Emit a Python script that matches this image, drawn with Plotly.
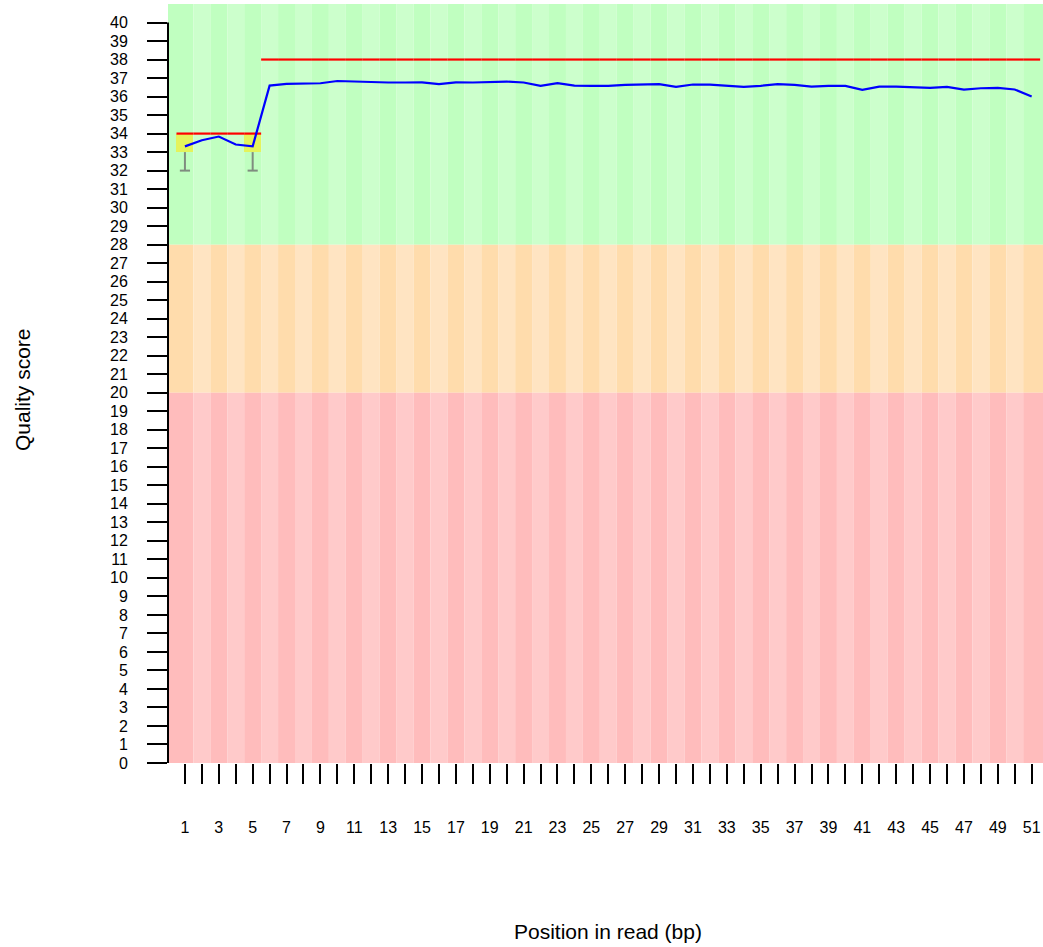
import plotly.graph_objects as go

# ---- data ----
positions = list(range(1, 52))
mean_q = [33.31, 33.64, 33.84, 33.41, 33.31,
          36.59, 36.68, 36.70, 36.72, 36.84, 36.81, 36.81, 36.76, 36.76, 36.77,
          36.67, 36.77, 36.76, 36.77, 36.81, 36.76, 36.58, 36.72, 36.59, 36.58,
          36.58, 36.63, 36.65, 36.67, 36.52, 36.65, 36.65, 36.58, 36.52, 36.58,
          36.67, 36.63, 36.54, 36.58, 36.58, 36.36, 36.54, 36.54, 36.49, 36.47,
          36.52, 36.38, 36.45, 36.47, 36.38, 36.00]
median_q = [34] * 5 + [38] * 46
lower_quart = [33, 34, 34, 34, 33] + [38] * 46
upper_quart = [34, 34, 34, 34, 34] + [38] * 46
whisker_low = [32, 34, 34, 34, 32] + [38] * 46
whisker_high = [34, 34, 34, 34, 34] + [38] * 46

y_ticks = list(range(0, 41))
x_tick_labels = [str(p) if p % 2 == 1 else "" for p in positions]

zones = [  # (low, high, dark colour, light colour)
    (28, 41, "#c0ffc0", "#ccffcc"),
    (20, 28, "#ffdcac", "#ffe4c2"),
    (0, 20, "#ffbcbc", "#ffcaca"),
]
X_MAX = 51.67
Y_MAX = 41

FONT = "Liberation Sans, Arial, Helvetica, sans-serif"

fig = go.Figure()

# background stripes
shapes = []
for lo, hi, dark, light in zones:
    for p in positions:
        x0 = 0 if p == positions[0] else p - 0.5
        x1 = X_MAX if p == positions[-1] else p + 0.5
        shapes.append(dict(type="rect", xref="x", yref="y", x0=x0, x1=x1,
                           y0=lo, y1=hi, fillcolor=dark if p % 2 == 1 else light,
                           line=dict(width=0), layer="below"))
# y axis line from 0 to 40
shapes.append(dict(type="line", xref="paper", yref="y", x0=0, x1=0,
                   y0=y_ticks[0], y1=y_ticks[-1],
                   line=dict(color="black", width=2)))

# interquartile boxes
fig.add_trace(go.Bar(
    x=positions,
    y=[u - l for u, l in zip(upper_quart, lower_quart)],
    base=lower_quart, width=1.0,
    marker=dict(color="#e4f35c", line=dict(width=0)),
    hoverinfo="skip", showlegend=False))

# whiskers
wx, wy = [], []
for p, lq, uq, wl, wh in zip(positions, lower_quart, upper_quart, whisker_low, whisker_high):
    if wl < lq:
        wx += [p, p, None, p - 0.3, p + 0.3, None]
        wy += [lq, wl, None, wl, wl, None]
    if wh > uq:
        wx += [p, p, None, p - 0.3, p + 0.3, None]
        wy += [uq, wh, None, wh, wh, None]
fig.add_trace(go.Scatter(x=wx, y=wy, mode="lines",
                         line=dict(color="#7f8c7f", width=2),
                         hoverinfo="skip", showlegend=False))

# medians
mx, my = [], []
for p, m in zip(positions, median_q):
    mx += [p - 0.5, p + 0.5, None]
    my += [m, m, None]
fig.add_trace(go.Scatter(x=mx, y=my, mode="lines",
                         line=dict(color="#ff0000", width=2.2),
                         hoverinfo="skip", showlegend=False))

# mean line
fig.add_trace(go.Scatter(x=positions, y=mean_q, mode="lines",
                         line=dict(color="#0000ff", width=2.2),
                         hoverinfo="skip", showlegend=False))

fig.update_layout(
    width=1043, height=947,
    margin=dict(l=168, r=0, t=4, b=184),
    paper_bgcolor="white", plot_bgcolor="white",
    font=dict(family=FONT, color="black", size=16),
    shapes=shapes,
    bargap=0,
    showlegend=False,
    xaxis=dict(range=[0, X_MAX], tickmode="array", tickvals=positions,
               ticktext=x_tick_labels, ticks="outside", ticklen=20, tickwidth=2,
               tickcolor="black", showline=False, showgrid=False, zeroline=False,
               tickfont=dict(size=16, family=FONT), ticklabelstandoff=30,
               fixedrange=True),
    yaxis=dict(range=[0, Y_MAX], tickmode="array", tickvals=y_ticks,
               ticktext=[str(v) for v in y_ticks], ticks="outside", ticklen=20,
               tickwidth=2, tickcolor="black", showline=False, showgrid=False,
               zeroline=False, tickfont=dict(size=16, family=FONT),
               ticklabelstandoff=16, fixedrange=True),
    annotations=[
        dict(text="Position in read (bp)", xref="paper", yref="paper",
             x=(608 - 168) / 875, y=(763 - 931) / 759, xanchor="center",
             yanchor="middle", showarrow=False, font=dict(size=21, family=FONT)),
        dict(text="Quality score", xref="paper", yref="paper",
             x=(22 - 168) / 875, y=(763 - 390) / 759, xanchor="center",
             yanchor="middle", textangle=-90, showarrow=False,
             font=dict(size=21, family=FONT)),
    ],
)

fig.write_html("out.html", config={"displayModeBar": False},
               post_script="document.body.style.margin='0px';")
